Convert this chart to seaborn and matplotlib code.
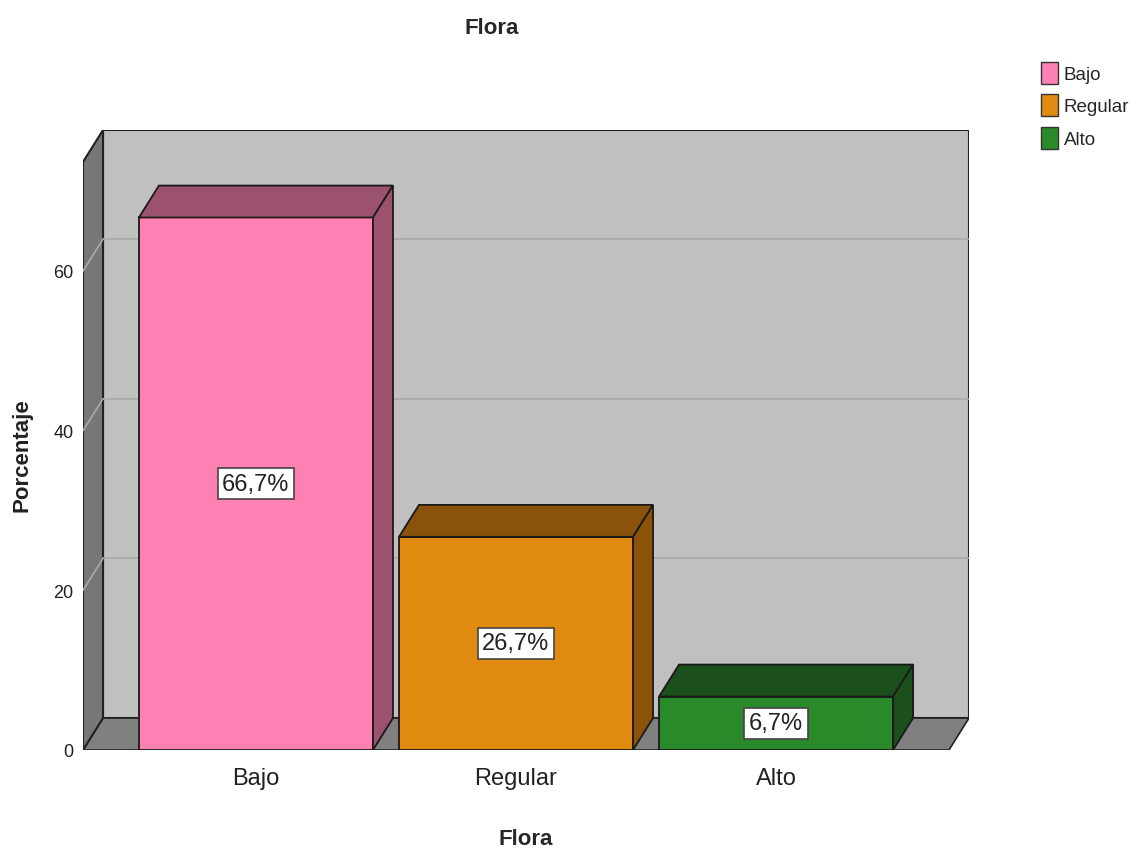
import matplotlib
matplotlib.use("Agg")
import matplotlib.pyplot as plt
from matplotlib.patches import Polygon, Patch
import seaborn as sns

# --- data ---
categories = ["Bajo", "Regular", "Alto"]
percentages = [66.7, 26.7, 6.7]
bar_labels = ["66,7%", "26,7%", "6,7%"]
front_colors = ["#FF80B3", "#E08A10", "#2A8A2A"]
shade_colors = ["#9C526E", "#8B520A", "#1B4F1B"]
y_ticks = [0, 20, 40, 60]

sns.set_theme(style="white")
plt.rcParams["font.family"] = ["Liberation Sans Narrow", "Liberation Sans", "DejaVu Sans"]

fig = plt.figure(figsize=(11.36, 8.54), dpi=100)
ax = fig.add_axes([83 / 1136, 1 - 751 / 854, (969 - 83) / 1136, (751 - 131) / 854])

# 3D offsets (data units)
dx, dy = 0.077, 4.0
x0, x1 = -0.665, 2.742
ymax = 77.66
bw = 0.9

sns.barplot(x=categories, y=percentages, hue=categories, palette=front_colors, saturation=1,
            width=bw, edgecolor="#1a1a1a", linewidth=1.3, legend=False, ax=ax, zorder=3)

# back wall
ax.add_patch(Polygon([(x0 + dx, dy), (x1, dy), (x1, ymax), (x0 + dx, ymax)],
                     closed=True, facecolor="#C0C0C0", edgecolor="#222222", lw=1.5, zorder=0))
# floor
ax.add_patch(Polygon([(x0, 0), (x1 - dx, 0), (x1, dy), (x0 + dx, dy)],
                     closed=True, facecolor="#808080", edgecolor="#222222", lw=1.2, zorder=0.5))
# left side wall
ax.add_patch(Polygon([(x0, 0), (x0, ymax - dy), (x0 + dx, ymax), (x0 + dx, dy)],
                     closed=True, facecolor="#777777", edgecolor="#222222", lw=1.5, zorder=0.5))

# grid lines on walls
for t in y_ticks[1:]:
    ax.plot([x0 + dx, x1], [t + dy, t + dy], color="#A9A9A9", lw=1.2, zorder=0.6)
    ax.plot([x0, x0 + dx], [t, t + dy], color="#A9A9A9", lw=1.2, zorder=0.6)

# bar tops and sides
for i, (v, c) in enumerate(zip(percentages, shade_colors)):
    l, r = i - bw / 2, i + bw / 2
    ax.add_patch(Polygon([(l, v), (r, v), (r + dx, v + dy), (l + dx, v + dy)],
                         closed=True, facecolor=c, edgecolor="#1a1a1a", lw=1.3, zorder=3))
    ax.add_patch(Polygon([(r, 0), (r + dx, dy), (r + dx, v + dy), (r, v)],
                         closed=True, facecolor=c, edgecolor="#1a1a1a", lw=1.3, zorder=3))
    ax.text(i, v / 2, bar_labels[i], ha="center", va="center", fontsize=17, color="#222222",
            zorder=5, bbox=dict(boxstyle="square,pad=0.2", facecolor="white", edgecolor="#444444", lw=1.2))

ax.set_xlim(x0, x1)
ax.set_ylim(0, ymax)
ax.set_yticks(y_ticks)
ax.set_yticklabels([str(t) for t in y_ticks], fontsize=13, color="#222222")
ax.tick_params(axis="y", length=0, pad=7)
ax.tick_params(axis="x", length=0, pad=12, labelsize=17, labelcolor="#222222")
for s in ax.spines.values():
    s.set_visible(False)
ax.patch.set_alpha(0)

ax.set_xlabel("Flora", fontsize=16, fontweight="bold", labelpad=28)
ax.set_ylabel("")
fig.text(22 / 1136, 1 - 455 / 854, "Porcentaje", ha="center", va="center", rotation=90,
         fontsize=16, fontweight="bold", color="#222222")
fig.text(492 / 1136, 1 - 28 / 854, "Flora", ha="center", va="center", fontsize=16, fontweight="bold")

handles = [Patch(facecolor=c, edgecolor="#333333", label=n) for c, n in zip(front_colors, categories)]
fig.legend(handles=handles, loc="upper left", bbox_to_anchor=(1033 / 1136, 1 - 55 / 854), frameon=False,
           fontsize=13.5, handlelength=0.95, handleheight=1.45, handletextpad=0.3, labelspacing=0.55,
           borderaxespad=0)

fig.savefig("out.png", dpi=100)
